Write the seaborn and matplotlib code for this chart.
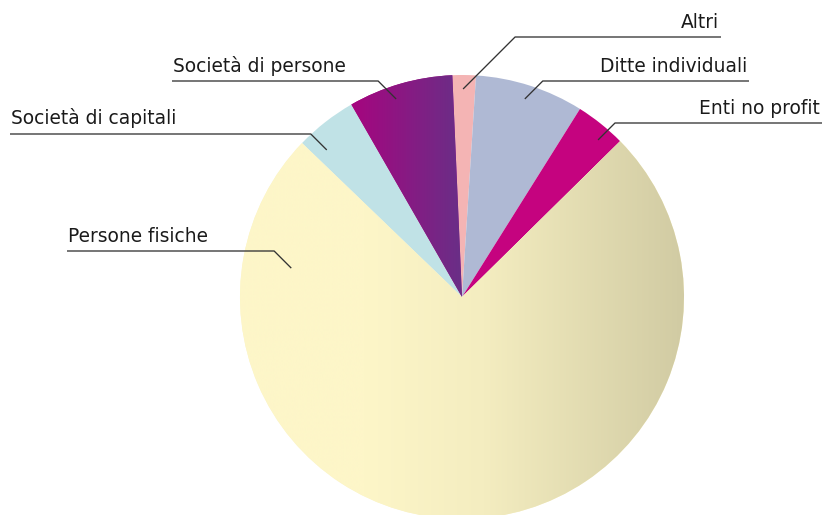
import numpy as np
import matplotlib
matplotlib.use('Agg')
import matplotlib.pyplot as plt
from matplotlib.colors import LinearSegmentedColormap
import seaborn as sns

# data (share of total, %), clockwise from the top
labels = ['Altri', 'Ditte individuali', 'Enti no profit', 'Persone fisiche',
          'Società di capitali', 'Società di persone']
shares = [1.7, 7.9, 3.7, 74.5, 4.5, 7.6]
colors = ['#F4B4B4', '#AFB9D4', '#C5037F', '#FCF5C8', '#C0E2E6', '#A3087F']

# gradient fills for two slices (horizontal, across the slice)
gradients = {
    'Persone fisiche': [(0.0, '#FDF6C8'), (0.28, '#FDF6C8'), (0.55, '#F4EDC0'), (1.0, '#D1CBA3')],
    'Società di persone': [(0.0, '#A6057F'), (1.0, '#692F87')],
}

# label layout: line y (px from top), outer end of the line, anchor radius, anchor angle
label_layout = {
    'Altri': (37, 721, 0.937, 89.7),
    'Ditte individuali': (81, 749, 0.936, 72.4),
    'Enti no profit': (123, 822, 0.936, 49.1),
    'Persone fisiche': (251, 67, 0.78, 170.4),
    'Società di capitali': (134, 10, 0.90, 132.6),
    'Società di persone': (81, 172, 0.94, 108.4),
}

sns.set_theme(style='white')
plt.rcParams['font.family'] = ['DejaVu Sans']

W, H = 822, 515
fig = plt.figure(figsize=(W / 100, H / 100), dpi=100)
ax = fig.add_axes([0, 0, 1, 1])

cx, cy, R = 462, H - 297, 222
wedges, _ = ax.pie(shares, colors=colors, startangle=92.5, counterclock=False,
                   center=(cx, cy), radius=R, wedgeprops=dict(linewidth=0))

for w, lab in zip(wedges, labels):
    if lab in gradients:
        cmap = LinearSegmentedColormap.from_list(lab, gradients[lab])
        bb = w.get_path().get_extents()
        grad = np.linspace(0, 1, 512).reshape(1, -1)
        im = ax.imshow(grad, cmap=cmap, extent=[bb.x0, bb.x1, bb.y0, bb.y1],
                       aspect='auto', interpolation='bilinear', zorder=w.get_zorder() + 0.1)
        im.set_clip_path(w)

# leader lines and labels
for w, lab in zip(wedges, labels):
    line_y, outer_x, frac, ang = label_layout[lab]
    theta = np.deg2rad(ang)
    ax_x = cx + frac * R * np.cos(theta)
    ax_y = cy + frac * R * np.sin(theta)
    ly = H - line_y
    dy = ly - ax_y
    right = outer_x > cx
    elbow_x = ax_x + dy if right else ax_x - dy
    ax.plot([outer_x, elbow_x, ax_x], [ly, ly, ax_y], color='#333333', lw=0.95,
            solid_capstyle='butt', zorder=5)
    if right:
        ax.text(outer_x - 2, ly + 9.5, lab, ha='right', va='baseline',
                fontsize=13.4, color='#1a1a1a')
    else:
        ax.text(outer_x + 1, ly + 9.5, lab, ha='left', va='baseline',
                fontsize=13.4, color='#1a1a1a')

ax.set_xlim(0, W)
ax.set_ylim(0, H)
ax.set_aspect('equal')
ax.axis('off')

fig.savefig('out.png', dpi=100, facecolor='white')
